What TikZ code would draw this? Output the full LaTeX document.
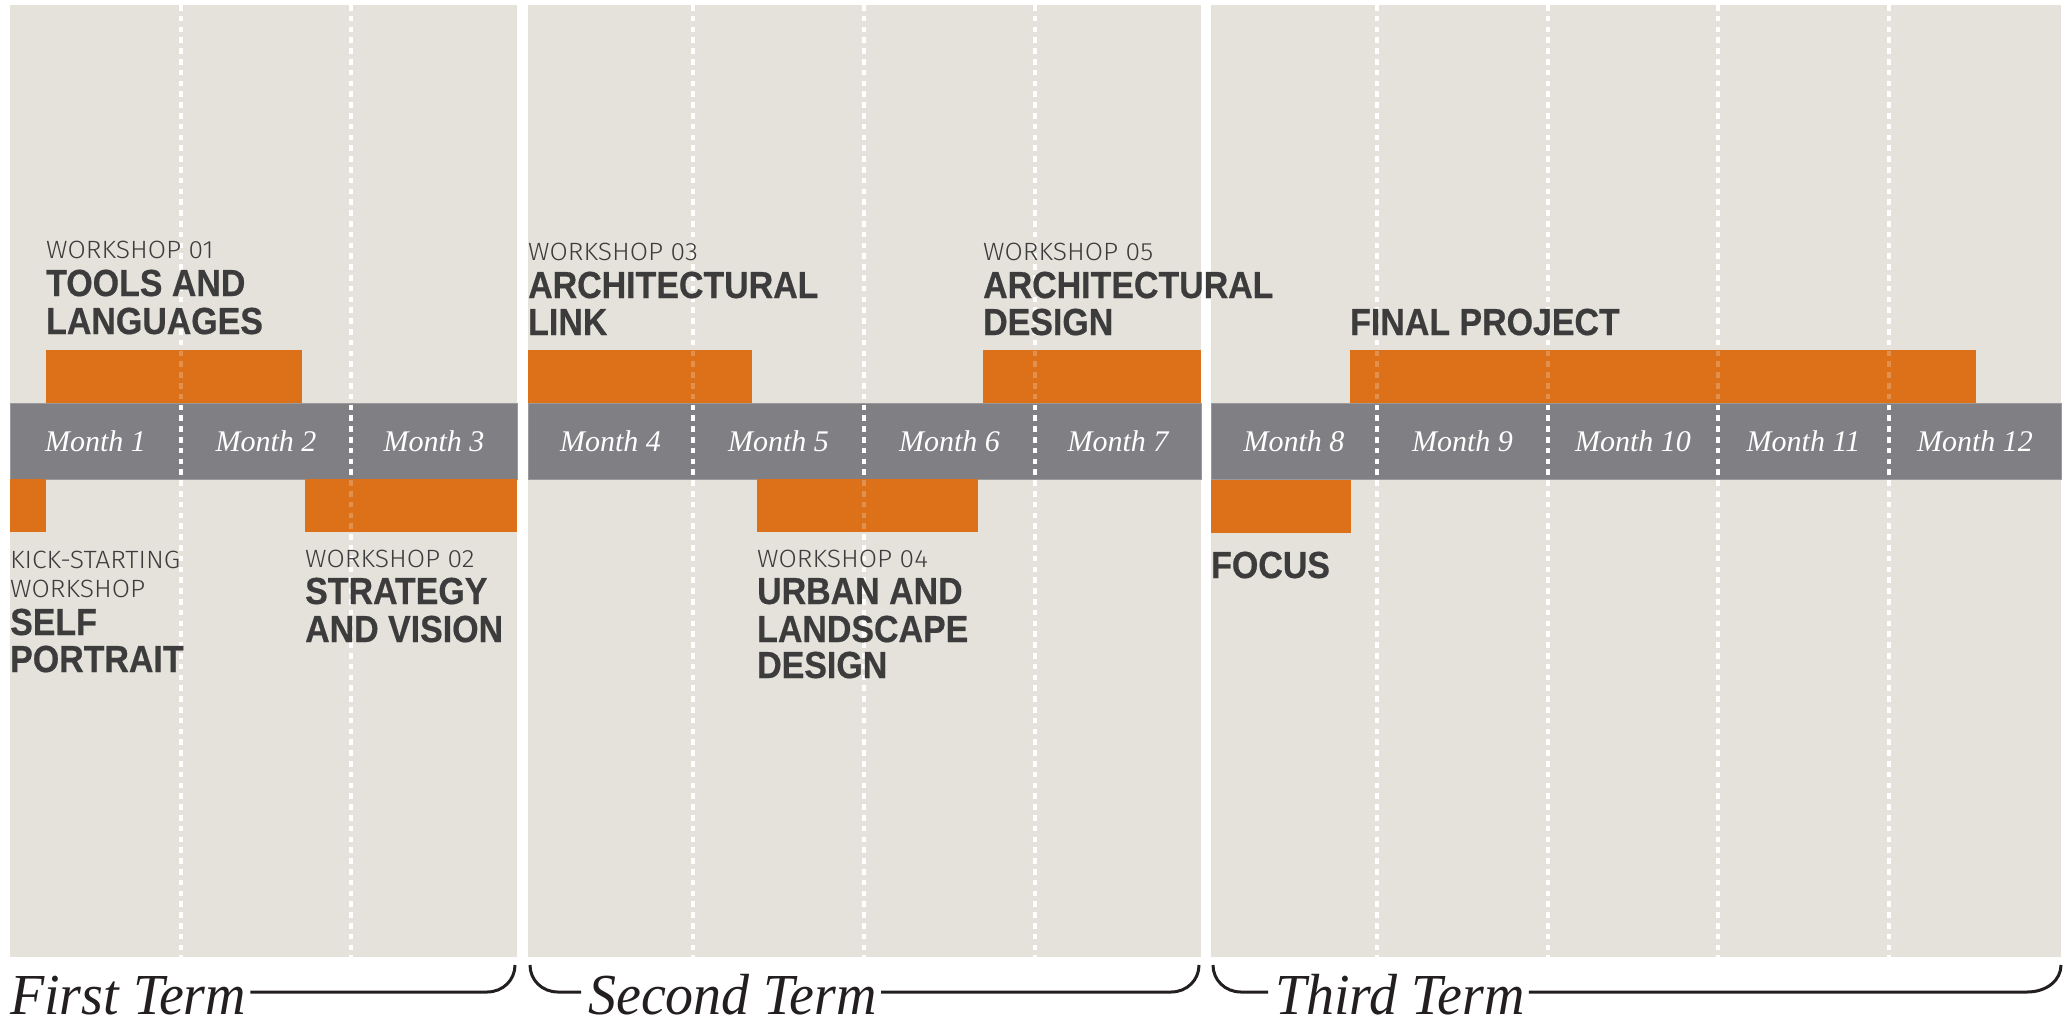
\documentclass[tikz,border=0pt]{standalone}
\usepackage{fontspec}
\usetikzlibrary{calc}
\newfontfamily\serifit{Liberation Serif}[FakeStretch=0.965]
\newfontfamily\monthf{Liberation Serif}
\newfontfamily\boldf{Liberation Sans}[FakeStretch=0.9,FakeBold=0.5]
\IfFontExistsTF{Fira Sans Light}{\newfontfamily\lightf{Fira Sans Light}[FakeStretch=1.06]}{\newfontfamily\lightf{Liberation Sans}[FakeStretch=0.95]}
\definecolor{beige}{HTML}{E5E2DC}
\definecolor{bandc}{HTML}{808084}
\definecolor{bandedge}{HTML}{9A9A9D}
\definecolor{orng}{HTML}{DC711A}
\definecolor{txt}{HTML}{3C3C3C}
\definecolor{ink}{HTML}{231F20}
\begin{document}
\begin{tikzpicture}[x=1pt,y=-1pt,
  panel/.style={fill=beige,draw=none},
  bandbox/.style={fill=bandc,draw=bandedge,line width=1pt},
  obar/.style={fill=orng,draw=none},
  divider/.style={draw=white,line width=4.5pt,dash pattern=on 5.5pt off 5.3pt},
  divlight/.style={draw=white,opacity=0.22,line width=4.5pt,dash pattern=on 5.5pt off 5.3pt},
  lab/.style={anchor=base west,inner sep=0pt,text=txt,font=\lightf\fontsize{25}{25}\selectfont},
  ttl/.style={anchor=base west,inner sep=0pt,text=txt,font=\boldf\bfseries\fontsize{37.7}{38}\selectfont},
  month/.style={anchor=base,inner sep=0pt,text=white,font=\monthf\itshape\fontsize{30}{30}\selectfont},
  term/.style={anchor=base west,inner sep=0pt,text=ink,text height=44pt,text depth=0pt,font=\serifit\itshape\fontsize{58}{58}\selectfont},
  brace/.style={draw=ink,line width=3pt}]
\useasboundingbox (0,0) rectangle (2069,1021);
\fill[white] (0,0) rectangle (2069,1021);
% panels
\fill[panel] (10,5) rectangle (517,957);
\fill[panel] (528,5) rectangle (1201,957);
\fill[panel] (1211,5) rectangle (2061,957);
% month band
\draw[bandbox] (10,403) rectangle (517,479);
\draw[bandbox] (528,403) rectangle (1201,479);
\draw[bandbox] (1211,403) rectangle (2061,479);
% dividers
\foreach \x in {181,351,693,864,1035,1377,1548,1718,1889}
  \draw[divider] (\x,5) -- (\x,957);
% orange bars
\fill[obar] (46,350) rectangle (302,403);
\fill[obar] (528,350) rectangle (752,403);
\fill[obar] (983,350) rectangle (1201,403);
\fill[obar] (1350,350) rectangle (1976,403);
\fill[obar] (10,479) rectangle (46,532);
\fill[obar] (305,479) rectangle (517,532);
\fill[obar] (757,479) rectangle (978,532);
\fill[obar] (1211,480) rectangle (1351,533);
\foreach \x in {181,351,693,864,1035,1377,1548,1718,1889}
  \draw[divlight] (\x,5) -- (\x,957);
% months
\foreach \x/\m [count=\i] in {95.5/1,266/2,434/3,610.5/4,778.5/5,949.5/6,1118/7,1294/8,1462.5/9,1633/10,1803.5/11,1975/12}
  \node[month] (m\i) at (\x,451) {Month \m};
% top row texts
\node[lab] (w1l) at (46,258) {WORKSHOP 01};
\node[ttl] (w1a) at (46,296) {TOOLS AND};
\node[ttl] (w1b) at (46,334) {LANGUAGES};
\node[lab] (w3l) at (528,260) {WORKSHOP 03};
\node[ttl] (w3a) at (528,298) {ARCHITECTURAL};
\node[ttl] (w3b) at (528,335) {LINK};
\node[lab] (w5l) at (983,260) {WORKSHOP 05};
\node[ttl] (w5a) at (983,298) {ARCHITECTURAL};
\node[ttl] (w5b) at (983,335) {DESIGN};
\node[ttl] (fp) at (1350,335) {FINAL PROJECT};
% bottom row texts
\node[lab] (ksa) at (10,568) {KICK-STARTING};
\node[lab] (ksb) at (10,597) {WORKSHOP};
\node[ttl] (ksc) at (10,635) {SELF};
\node[ttl] (ksd) at (10,672) {PORTRAIT};
\node[lab] (w2l) at (305,567) {WORKSHOP 02};
\node[ttl] (w2a) at (305,604) {STRATEGY};
\node[ttl] (w2b) at (305,642) {AND VISION};
\node[lab] (w4l) at (757,567) {WORKSHOP 04};
\node[ttl] (w4a) at (757,604) {URBAN AND};
\node[ttl] (w4b) at (757,642) {LANDSCAPE};
\node[ttl] (w4c) at (757,678) {DESIGN};
\node[ttl] (fo) at (1211,578) {FOCUS};
% terms
\node[term] (t1) at (10,1014) {First Term};
\node[term] (t2) at (588,1014) {Second Term};
\node[term] (t3) at (1275,1014) {Third Term};
\coordinate (e1) at (515,965);
\coordinate (s2) at (530,965);
\coordinate (e2) at (1199,965);
\coordinate (s3) at (1213,965);
\coordinate (e3) at (2061,965);
\draw[brace] ([xshift=4pt]t1.east) -- ($(e1)+(-28,27)$) .. controls ($(e1)+(-12,27)$) and ($(e1)+(0,15)$) .. (e1);
\draw[brace] (s2) .. controls ($(s2)+(0,15)$) and ($(s2)+(12,27)$) .. ($(s2)+(28,27)$) -- ([xshift=-7pt]t2.west);
\draw[brace] ([xshift=4pt]t2.east) -- ($(e2)+(-28,27)$) .. controls ($(e2)+(-12,27)$) and ($(e2)+(0,15)$) .. (e2);
\draw[brace] (s3) .. controls ($(s3)+(0,15)$) and ($(s3)+(12,27)$) .. ($(s3)+(28,27)$) -- ([xshift=-7pt]t3.west);
\draw[brace] ([xshift=4pt]t3.east) -- ($(e3)+(-34,27)$) .. controls ($(e3)+(-14,27)$) and ($(e3)+(0,15)$) .. (e3);
\end{tikzpicture}
\end{document}
